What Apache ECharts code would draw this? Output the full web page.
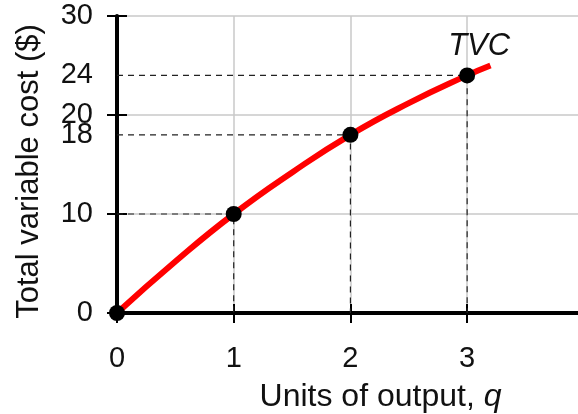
<!DOCTYPE html>
<html><head><meta charset="utf-8">
<script src="https://cdn.jsdelivr.net/npm/echarts@6/dist/echarts.min.js"></script>
<style>html,body{margin:0;padding:0;background:#fff}#c{width:578px;height:414px}</style>
</head><body><div id="c"></div>
<script>
// Data
const curveQ   = [0, 0.5, 1, 1.5, 2, 2.5, 3, 3.2];
const curveTVC = [0, 5.2, 10, 14.2, 18, 21.2, 24, 25];
const pointQ   = [0, 1, 2, 3];
const pointTVC = [0, 10, 18, 24];
const yLabels  = [0, 10, 18, 20, 24, 30];
const yTicks   = [0, 10, 20, 30];
const xLabels  = [0, 1, 2, 3];

const chart = echarts.init(document.getElementById('c'));
const font = 'Liberation Sans, Arial, sans-serif';
const fs = 29;
const fn = 31;
const tc = '#111';

const guideSeries = pointQ.filter(q => q > 0).map(q => {
  const v = pointTVC[pointQ.indexOf(q)];
  return {
    type: 'line', xAxisIndex: 0, yAxisIndex: 0, symbol: 'none', silent: true, z: 3,
    lineStyle: { color: '#222', width: 1.2, type: [6, 5] },
    data: [[0, v], [q, v], [q, 0]]
  };
});

chart.setOption({
  animation: false,
  grid: { left: 117, right: 0, top: 16, bottom: 101, containLabel: false, outerBoundsMode: 'none' },
  xAxis: [{
    type: 'value', min: 0, max: 3.95, interval: 1,
    axisLine: { show: true, onZero: false, lineStyle: { color: '#000', width: 4 } },
    axisTick: { show: true, length: 10, lineStyle: { color: '#000', width: 2 }, customValues: [0, 1, 2, 3] },
    axisLabel: { show: true, customValues: xLabels, fontFamily: font, fontSize: fs, color: tc, margin: 31 },
    splitLine: { show: true, lineStyle: { color: '#c8c8c8', width: 1.5 } },
    name: '{n|Units of output, }{q|q}', nameLocation: 'middle', nameGap: 68,
    nameTextStyle: { padding: [0, 0, 0, 66], rich: {
      n: { fontFamily: font, fontSize: 32, color: tc },
      q: { fontFamily: font, fontSize: 32, color: tc, fontStyle: 'italic' } } }
  }, {
    type: 'value', min: 0, max: 3.95, interval: 1, position: 'bottom', offset: 0,
    axisLine: { show: false },
    axisTick: { show: true, inside: true, length: 9, lineStyle: { color: '#000', width: 2 }, customValues: [1, 2, 3] },
    axisLabel: { show: false }, splitLine: { show: false }
  }],
  yAxis: [{
    type: 'value', min: 0, max: 30, interval: 10,
    axisLine: { show: true, onZero: false, lineStyle: { color: '#000', width: 4 } },
    axisTick: { show: true, length: 10, lineStyle: { color: '#000', width: 2 }, customValues: yTicks },
    axisLabel: { show: true, customValues: yLabels, fontFamily: font, fontSize: fs, color: tc, margin: 24 },
    splitLine: { show: true, lineStyle: { color: '#c8c8c8', width: 1.5 } },
    name: 'Total variable cost ($)', nameLocation: 'middle', nameGap: 72,
    nameTextStyle: { fontFamily: font, fontSize: fn, color: tc, padding: [0, 14, 0, 0] }
  }, {
    type: 'value', min: 0, max: 30, interval: 10, position: 'left', offset: 0,
    axisLine: { show: false },
    axisTick: { show: true, inside: true, length: 10, lineStyle: { color: '#000', width: 2 }, customValues: [10, 20, 30] },
    axisLabel: { show: false }, splitLine: { show: false }
  }],
  series: [
    ...guideSeries,
    {
      type: 'line', smooth: true, symbol: 'none', z: 4,
      lineStyle: { color: '#ff0000', width: 6 },
      data: curveQ.map((q, i) => [q, curveTVC[i]])
    },
    {
      type: 'scatter', symbol: 'circle', symbolSize: 16, z: 5,
      itemStyle: { color: '#000', opacity: 1 },
      data: pointQ.map((q, i) => ({
        value: [q, pointTVC[i]],
        label: i === 3 ? { show: true, formatter: 'TVC', position: 'top', distance: 6, offset: [12, 0],
          fontFamily: font, fontSize: fn, fontStyle: 'italic', color: tc } : { show: false }
      }))
    }
  ]
});
</script></body></html>
